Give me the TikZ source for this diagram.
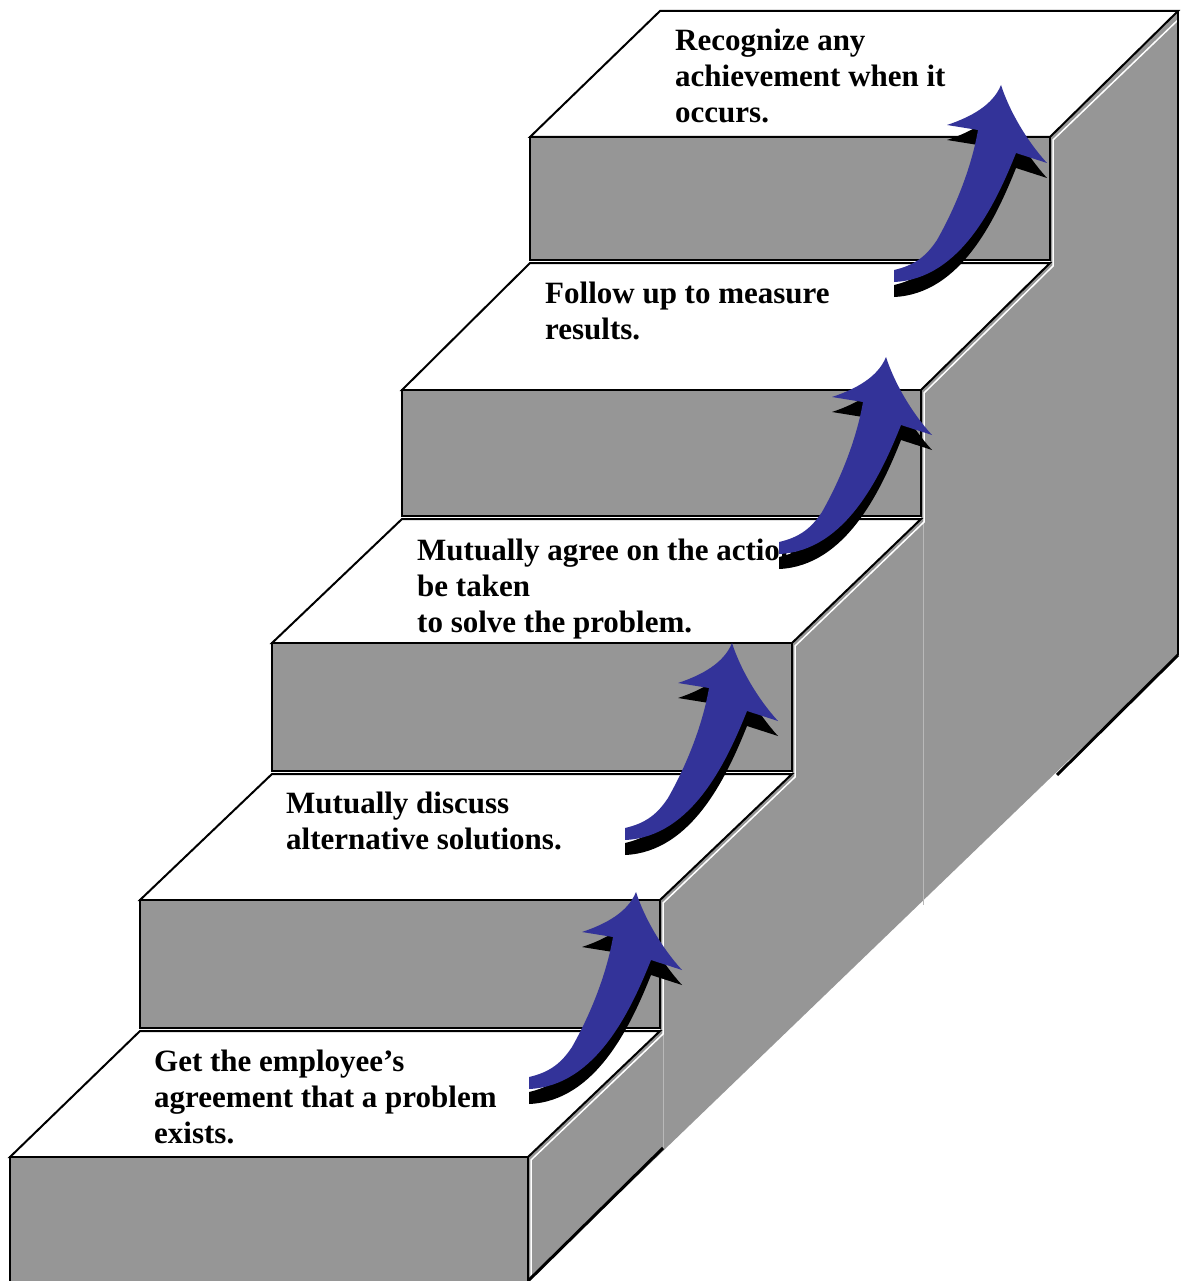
\documentclass[tikz,border=0pt]{standalone}
\usepackage{fontspec}
\setmainfont{Liberation Serif}
\definecolor{stepgray}{RGB}{150,150,150}
\definecolor{arrowblue}{RGB}{51,51,153}
\definecolor{faintedge}{RGB}{185,185,185}
\def\stairarrowpath{(0,0) .. controls (8,25) and (25,55) .. (46,78)
  -- (15,68) .. controls (-5,118) and (-40,194) .. (-107,197)
  -- (-107,185) .. controls (-85,180) and (-74,170) .. (-64,155)
  .. controls (-47,125) and (-30,85) .. (-23,45)
  -- (-54,40) .. controls (-30,32) and (-8,20) .. (0,0) -- cycle}
\tikzset{
  stairarrow/.pic={
    \fill[black, shift={(0,15)}] \stairarrowpath;
    \fill[arrowblue] \stairarrowpath;
  },
  topface/.style={fill=white, draw=black, line width=2pt, line join=miter},
  frontface/.style={fill=stepgray, draw=black, line width=2.5pt},
  lbl/.style={font=\bfseries\fontsize{31}{36}\selectfont, align=left, inner sep=0pt, anchor=base west}
}
\begin{document}
\begin{tikzpicture}[x=1pt,y=-1pt]
\useasboundingbox (0,0) rectangle (1180,1281);
\fill[white] (0,0) rectangle (1180,1281);
% side faces
\fill[stepgray] (528,1157) -- (660,1031) -- (660,900) -- (792,774) -- (792,643)
  -- (921,519) -- (921,390) -- (1050,263) -- (1050,137) -- (1178,11)
  -- (1178,655) -- (528,1281) -- cycle;
\draw[faintedge, line width=1pt] (663,1031) -- (663,1148);
\draw[faintedge, line width=1pt] (923,519) -- (923,905);
\draw[white, line width=1.5pt] (531,1281) -- (531,1160) -- (663,1034) -- (663,903)
  -- (795,777) -- (795,646) -- (924,522) -- (924,393) -- (1053,266) -- (1053,140) -- (1180,18);
\draw[black, line width=3pt] (528,1281) -- (663,1148);
\draw[black, line width=3pt] (1057,775) -- (1178,655);
\draw[black, line width=1.5pt] (1178,11) -- (1178,655);
% steps
\draw[topface] (10,1157) -- (528,1157) -- (660,1031) -- (140,1031) -- cycle;
\draw[frontface] (10,1157) rectangle (528,1295);
\draw[topface] (140,900) -- (660,900) -- (792,774) -- (272,774) -- cycle;
\draw[frontface] (140,900) rectangle (660,1028);
\draw[topface] (272,643) -- (792,643) -- (921,519) -- (402,519) -- cycle;
\draw[frontface] (272,643) rectangle (792,771);
\draw[topface] (402,390) -- (921,390) -- (1050,263) -- (530,263) -- cycle;
\draw[frontface] (402,390) rectangle (921,516);
\draw[topface] (530,137) -- (1050,137) -- (1178,11) -- (660,11) -- cycle;
\draw[frontface] (530,137) rectangle (1050,260);
% labels (anchored at the baseline of their last line)
\node[lbl] (t1) at (154,1143) {Get the employee’s\\agreement that a problem\\exists.};
\node[lbl] (t2) at (286,849) {Mutually discuss\\alternative solutions.};
\node[lbl] (t3) at (417,632) {Mutually agree on the action\\be taken\\to solve the problem.};
\node[lbl] (t4) at (545,339) {Follow up to measure\\results.};
\node[lbl] (t5) at (675,123) {Recognize any\\achievement when it\\occurs.};
% arrows
\pic (a1) at (636,892) {stairarrow};
\pic (a2) at (732,643) {stairarrow};
\pic (a3) at (886,357) {stairarrow};
\pic (a4) at (1001,85) {stairarrow};
\end{tikzpicture}
\end{document}
